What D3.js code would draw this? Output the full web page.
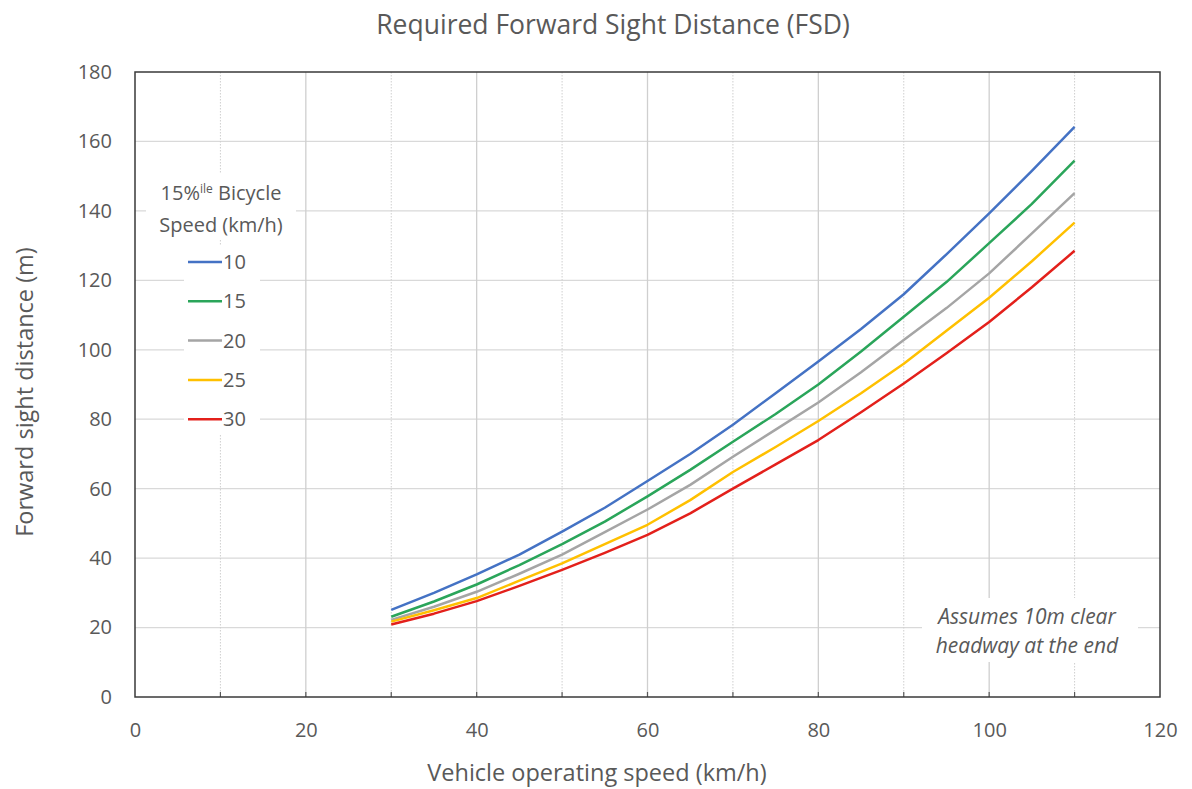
<!DOCTYPE html>
<html>
<head>
<meta charset="utf-8">
<script src="https://cdn.jsdelivr.net/npm/d3@7"></script>
<style>
  body { margin: 0; background: #fff; }
  svg { font-family: "Open Sans", "Noto Sans", sans-serif; }
</style>
</head>
<body>
<div id="chart"></div>
<script>
// vehicle operating speed (km/h)
const speeds = [30, 35, 40, 45, 50, 55, 60, 65, 70, 75, 80, 85, 90, 95, 100, 105, 110];

// forward sight distance (m) per 15%ile bicycle speed
const fsd10 = [25.1, 30, 35.3, 41, 47.6, 54.5, 62.2, 70, 78.4, 87.5, 96.6, 106, 116, 127.5, 139.3, 151.5, 164.2];
const fsd15 = [23.1, 27.5, 32.4, 38, 44, 50.5, 57.8, 65.4, 73.5, 81.5, 90, 99.5, 109.5, 119.5, 130.7, 142, 154.5];
const fsd20 = [22.2, 26, 30.3, 35.5, 41, 47.5, 54, 61.1, 69.2, 77, 84.8, 93.5, 102.8, 112, 122, 133.5, 145.1];
const fsd25 = [21.7, 25, 28.5, 33.5, 38.5, 44, 49.6, 56.7, 64.8, 72, 79.5, 87.5, 96, 105.5, 115, 125.5, 136.6];
const fsd30 = [20.9, 24, 27.6, 32, 36.6, 41.5, 46.7, 52.9, 60, 67, 74, 82, 90.3, 99, 108, 118, 128.5];

const seriesNames = ["10", "15", "20", "25", "30"];
const seriesColors = ["#4472c4", "#2aa55a", "#a5a5a5", "#ffc000", "#e3201b"];
const xTicks = [0, 20, 40, 60, 80, 100, 120];
const yTicks = [0, 20, 40, 60, 80, 100, 120, 140, 160, 180];

const series = [fsd10, fsd15, fsd20, fsd25, fsd30].map((vals, i) => ({
  name: seriesNames[i],
  color: seriesColors[i],
  values: speeds.map((s, j) => ({ speed: s, dist: vals[j] }))
}));

const W = 1192, H = 789;
const margin = { top: 72, right: 32, bottom: 92, left: 135 };
const width = W - margin.left - margin.right;
const height = H - margin.top - margin.bottom;
const textCol = "#595959";

const svg = d3.select("#chart").append("svg")
  .attr("width", W)
  .attr("height", H);

const g = svg.append("g").attr("transform", `translate(${margin.left},${margin.top})`);

const x = d3.scaleLinear().domain([0, 120]).range([0, width]);
const y = d3.scaleLinear().domain([0, 180]).range([height, 0]);

// horizontal gridlines
g.append("g")
  .selectAll("line")
  .data(yTicks.filter(d => d > 0 && d < 180))
  .join("line")
  .attr("x1", 0).attr("x2", width)
  .attr("y1", d => y(d)).attr("y2", d => y(d))
  .attr("stroke", "#d9d9d9").attr("stroke-width", 1.2);

// vertical gridlines: solid at every 20, dotted in between
const vGrid = d3.range(10, 120, 10);
g.append("g")
  .selectAll("line")
  .data(vGrid)
  .join("line")
  .attr("x1", d => x(d)).attr("x2", d => x(d))
  .attr("y1", 0).attr("y2", height)
  .attr("stroke", "#cfcfcf")
  .attr("stroke-width", d => d % 20 === 0 ? 1.3 : 1)
  .attr("stroke-dasharray", d => d % 20 === 0 ? null : "1.5,1.5");

// small inward ticks on bottom axis
g.append("g")
  .selectAll("line")
  .data(vGrid)
  .join("line")
  .attr("x1", d => x(d)).attr("x2", d => x(d))
  .attr("y1", height).attr("y2", height - 5)
  .attr("stroke", "#595959").attr("stroke-width", 1.2);

// lines
const line = d3.line()
  .x(d => x(d.speed))
  .y(d => y(d.dist));

g.append("g")
  .selectAll("path")
  .data(series)
  .join("path")
  .attr("d", d => line(d.values))
  .attr("fill", "none")
  .attr("stroke", d => d.color)
  .attr("stroke-width", 2.5)
  .attr("stroke-linejoin", "round");

// plot border
g.append("rect")
  .attr("width", width).attr("height", height)
  .attr("fill", "none")
  .attr("stroke", "#3a3a3a").attr("stroke-width", 1.5);

// axes tick labels
const xAxis = d3.axisBottom(x).tickValues(xTicks).tickSize(0).tickPadding(26);
g.append("g")
  .attr("transform", `translate(0,${height})`)
  .call(xAxis)
  .call(a => a.select(".domain").remove())
  .selectAll("text")
  .attr("font-size", 20)
  .attr("font-family", "'Open Sans', sans-serif")
  .attr("fill", textCol);

const yAxis = d3.axisLeft(y).tickValues(yTicks).tickSize(0).tickPadding(23);
g.append("g")
  .call(yAxis)
  .call(a => a.select(".domain").remove())
  .selectAll("text")
  .attr("font-size", 20)
  .attr("font-family", "'Open Sans', sans-serif")
  .attr("fill", textCol);

// title and axis titles
svg.append("text")
  .attr("x", 613).attr("y", 34)
  .attr("text-anchor", "middle")
  .attr("font-size", 26.5)
  .attr("fill", textCol)
  .text("Required Forward Sight Distance (FSD)");

svg.append("text")
  .attr("x", 597).attr("y", 781)
  .attr("text-anchor", "middle")
  .attr("font-size", 23.5)
  .attr("fill", textCol)
  .text("Vehicle operating speed (km/h)");

svg.append("text")
  .attr("transform", "translate(33,392) rotate(-90)")
  .attr("text-anchor", "middle")
  .attr("font-size", 23.5)
  .attr("fill", textCol)
  .text("Forward sight distance (m)");

// legend
const legend = svg.append("g");
legend.append("rect")
  .attr("x", 146).attr("y", 174).attr("width", 150).attr("height", 66)
  .attr("fill", "#fff");
legend.append("rect")
  .attr("x", 184).attr("y", 246).attr("width", 76).attr("height", 188)
  .attr("fill", "#fff");

const lt = legend.append("text")
  .attr("x", 221).attr("y", 200)
  .attr("text-anchor", "middle")
  .attr("font-size", 20)
  .attr("fill", textCol);
lt.append("tspan").text("15%");
lt.append("tspan").attr("font-size", 12).attr("dy", -7).text("ile");
lt.append("tspan").attr("dy", 7).text(" Bicycle");
legend.append("text")
  .attr("x", 221).attr("y", 232)
  .attr("text-anchor", "middle")
  .attr("font-size", 20)
  .attr("fill", textCol)
  .text("Speed (km/h)");

const entry = legend.selectAll("g.entry")
  .data(series)
  .join("g")
  .attr("class", "entry")
  .attr("transform", (d, i) => `translate(188,${262 + i * 39.3})`);
entry.append("line")
  .attr("x1", 0).attr("x2", 34)
  .attr("stroke", d => d.color).attr("stroke-width", 2.5);
entry.append("text")
  .attr("x", 35).attr("y", 7)
  .attr("font-size", 20)
  .attr("fill", textCol)
  .text(d => d.name);

// note
svg.append("rect")
  .attr("x", 922).attr("y", 598).attr("width", 216).attr("height", 64)
  .attr("fill", "#fff");
const note = svg.append("text")
  .attr("text-anchor", "middle")
  .attr("font-size", 21)
  .attr("font-style", "italic")
  .attr("fill", textCol);
note.append("tspan").attr("x", 1027).attr("y", 624).text("Assumes 10m clear");
note.append("tspan").attr("x", 1027).attr("y", 653).text("headway at the end");
</script>
</body>
</html>
